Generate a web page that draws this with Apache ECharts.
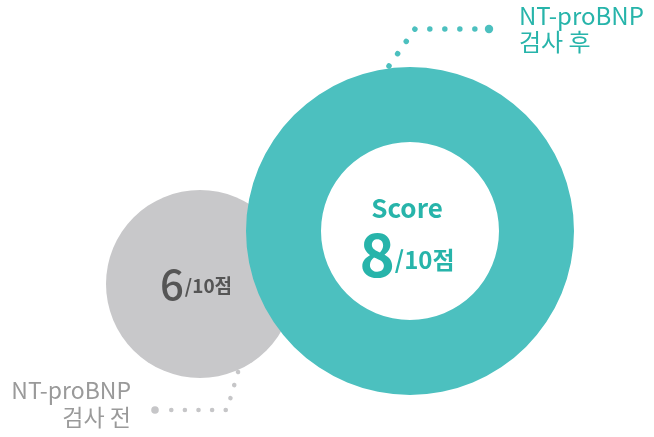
<!DOCTYPE html>
<html><head><meta charset="utf-8">
<script src="https://cdn.jsdelivr.net/npm/echarts@6/dist/echarts.min.js"></script>
<style>html,body{margin:0;padding:0;background:#fff}#c{width:654px;height:437px}</style>
</head><body><div id="c"></div>
<script>
const stageNames = ['NT-proBNP\n검사 전', 'NT-proBNP\n검사 후'];
const scores = [6, 8];
const maxScore = 10;
const unit = '점';
const scoreTitle = 'Score';

const FONT = '"Noto Sans CJK KR", "Noto Sans", sans-serif';
const TEAL = '#4CC0BF';
const TEAL_TEXT = '#27B4AA';
const GREY = '#C8C8CA';

const chart = echarts.init(document.getElementById('c'), null, {renderer: 'canvas'});
chart.setOption({
  animation: false,
  series: [
    {
      type: 'pie', silent: true,
      center: [200, 284], radius: [0, 94],
      emphasis: {disabled: true},
      itemStyle: {color: GREY},
      label: {
        show: true, position: 'center', offset: [-4, 0],
        formatter: () => `{n|${scores[0]}}{u|/${maxScore}${unit}}`,
        rich: {
          n: {fontFamily: FONT, fontSize: 42, color: '#555555', fontWeight: 500, padding: [0, 1, 0, 0]},
          u: {fontFamily: FONT, fontSize: 19, color: '#555555', fontWeight: 'bold', verticalAlign: 'bottom', padding: [0, 0, 10, 0]}
        }
      },
      labelLine: {show: false},
      data: [{value: scores[0], name: stageNames[0]}]
    },
    {
      type: 'pie', silent: true,
      center: [410, 231], radius: [89, 164],
      emphasis: {disabled: true},
      itemStyle: {color: TEAL},
      label: {
        show: true, position: 'center', offset: [-3, 6],
        formatter: () => `{s|${scoreTitle}}\n{n|${scores[1]}}{u|/${maxScore}${unit}}`,
        rich: {
          s: {fontFamily: FONT, fontSize: 26, color: TEAL_TEXT, fontWeight: 'bold', lineHeight: 34},
          n: {fontFamily: FONT, fontSize: 60, color: TEAL_TEXT, fontWeight: 'bold', lineHeight: 58},
          u: {fontFamily: FONT, fontSize: 24, color: TEAL_TEXT, fontWeight: 'bold', verticalAlign: 'bottom', padding: [0, 0, 11, 0]}
        }
      },
      labelLine: {show: false},
      data: [{value: scores[1], name: stageNames[1]}]
    }
  ],
  graphic: [
    {type: 'polyline', z: 10, shape: {points: [[389, 66], [415, 29], [482, 29]]},
     style: {stroke: TEAL, lineWidth: 5.5, lineDash: [0.01, 15], lineCap: 'round', fill: null}},
    {type: 'circle', z: 10, shape: {cx: 489, cy: 29, r: 4.2}, style: {fill: TEAL}},
    {type: 'polyline', z: 10, shape: {points: [[238, 372], [227, 410], [165, 410]]},
     style: {stroke: '#C6C6C8', lineWidth: 4.6, lineDash: [0.01, 13.6], lineCap: 'round', fill: null}},
    {type: 'circle', z: 10, shape: {cx: 155, cy: 410, r: 3.8}, style: {fill: '#C6C6C8'}},
    {type: 'text', z: 10, left: 519, top: 3,
     style: {text: stageNames[1], fontFamily: FONT, fontSize: 24, lineHeight: 26, fill: TEAL_TEXT, textAlign: 'left'}},
    {type: 'text', z: 10, right: 654 - 131, top: 377,
     style: {text: stageNames[0], fontFamily: FONT, fontSize: 23, lineHeight: 27, fill: '#9A9A9A', textAlign: 'right'}}
  ]
});
</script></body></html>
